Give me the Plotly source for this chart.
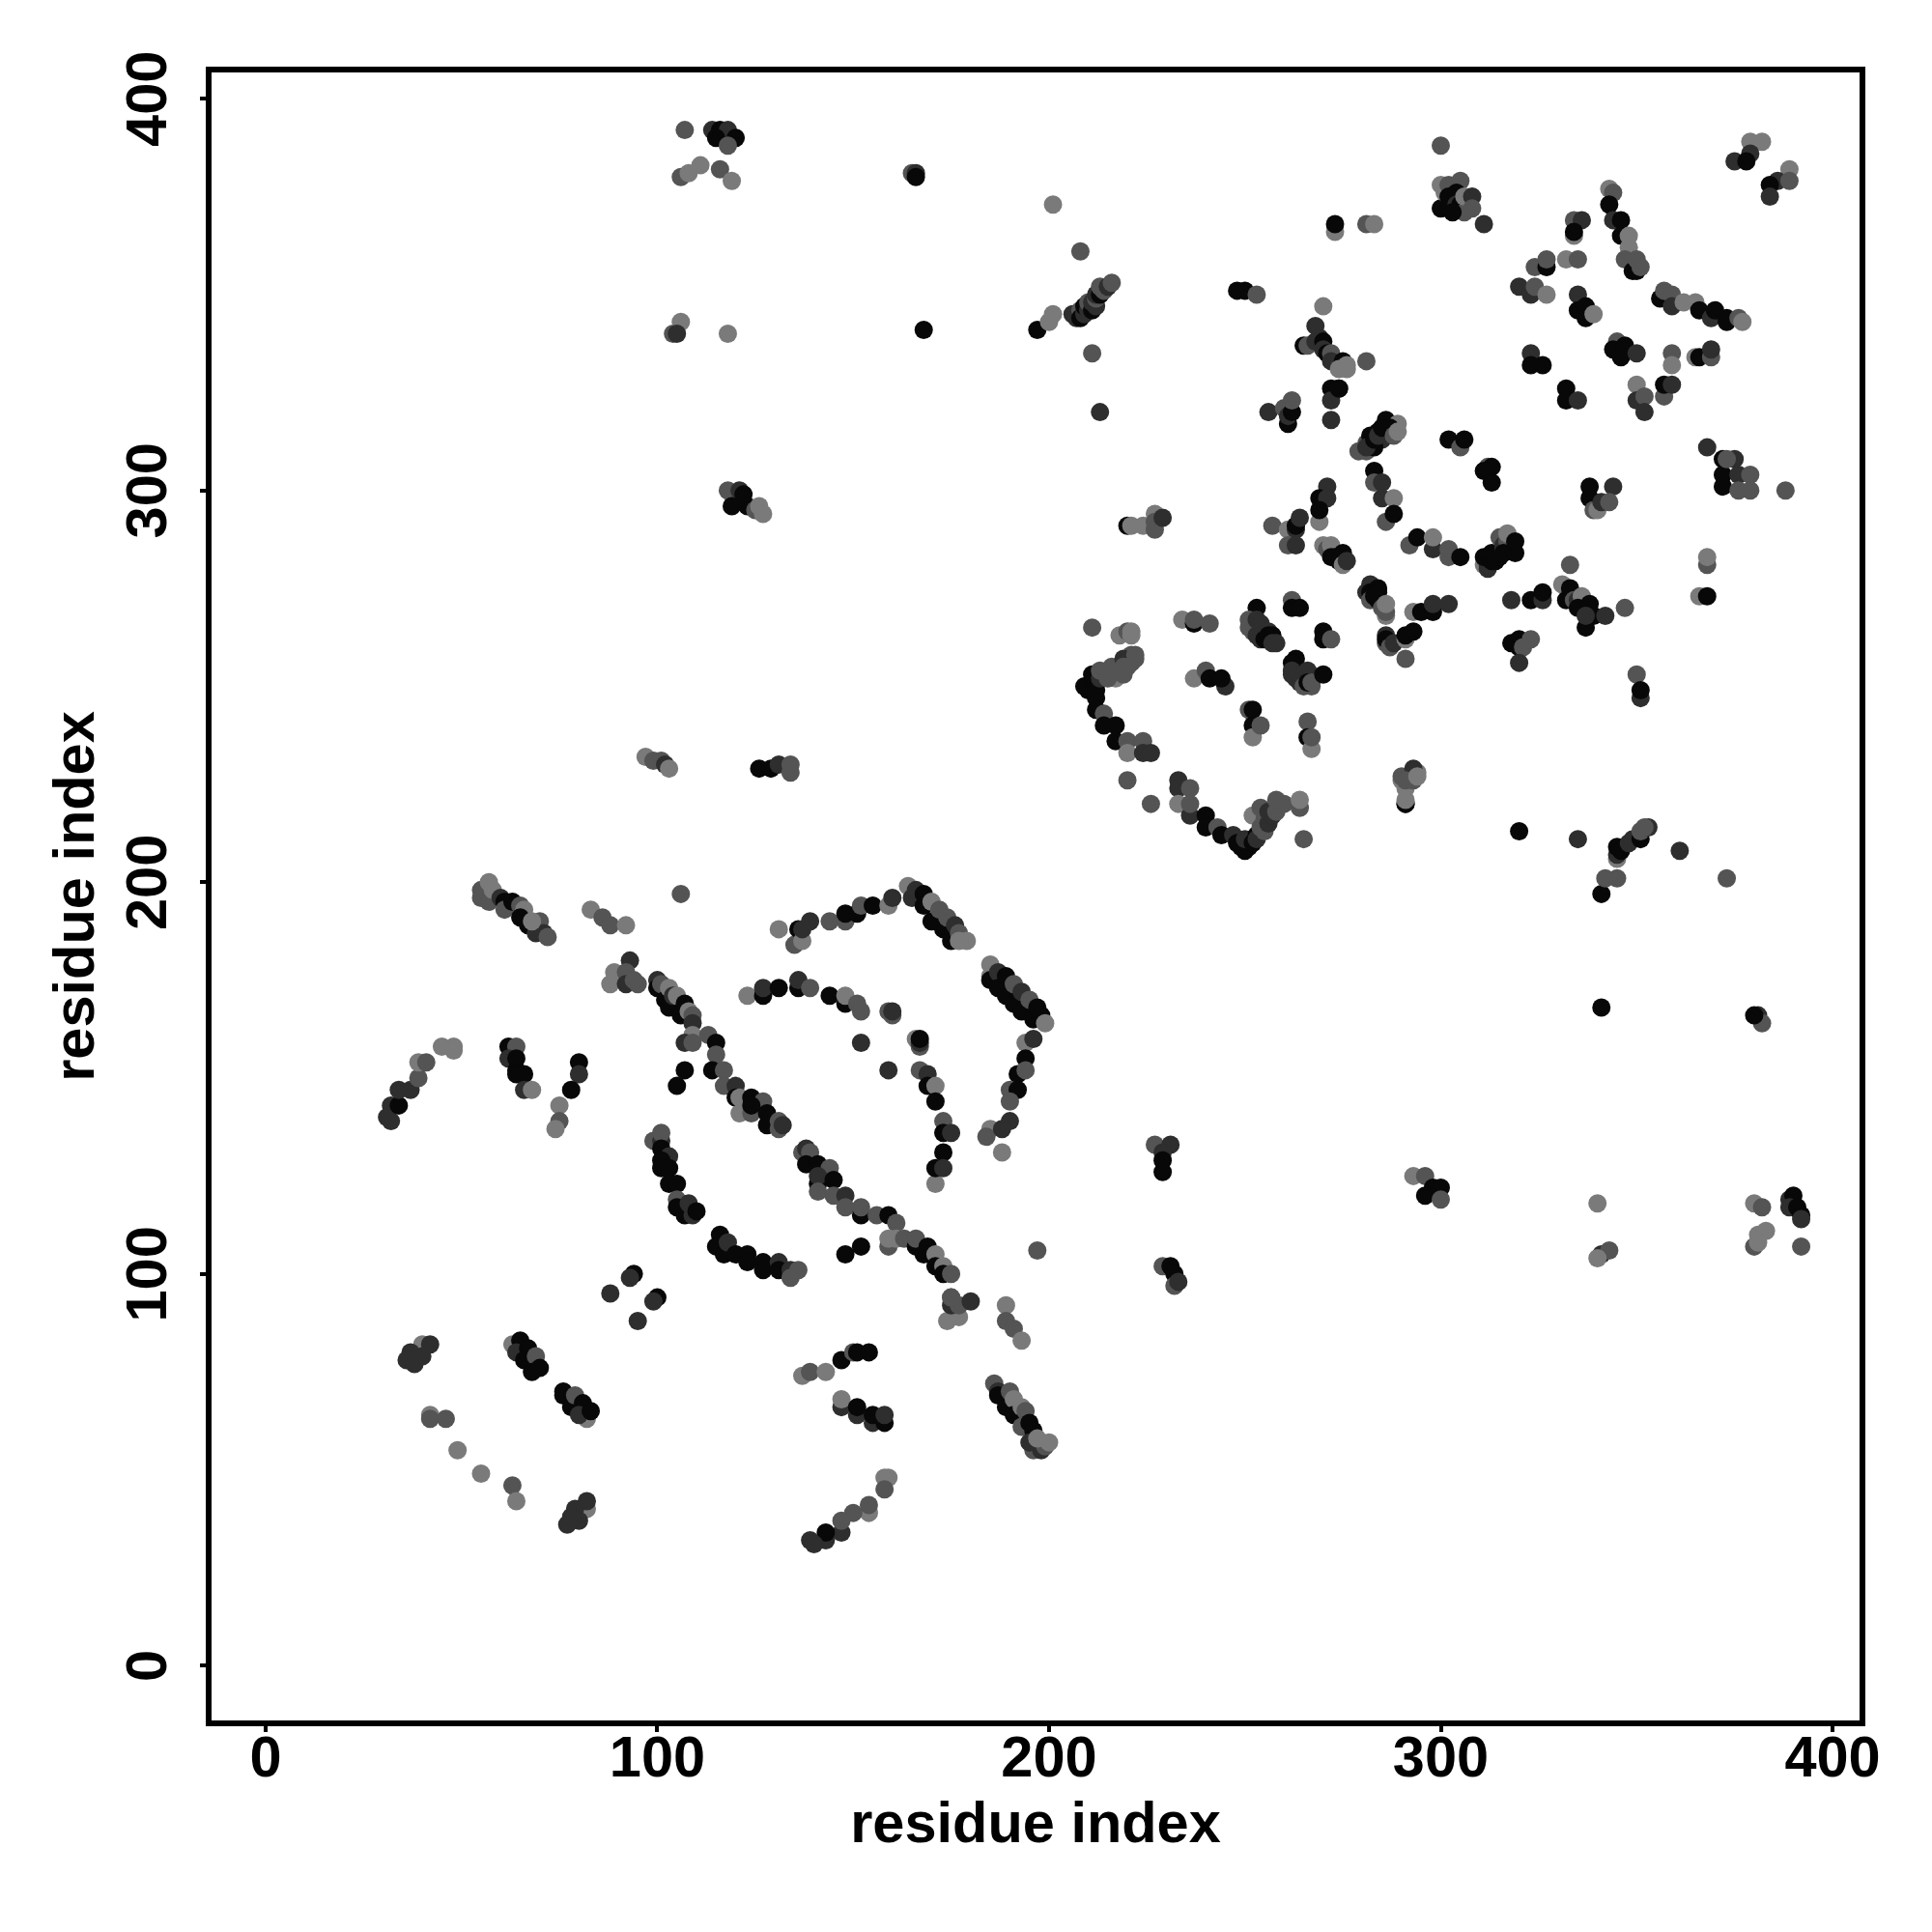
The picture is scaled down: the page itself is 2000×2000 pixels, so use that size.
import plotly.graph_objects as go

# each row: residue i, residue j, score (0 = darkest, 3 = lightest)
helix_a = [(55,196,2),(55,198,2),(57,200,3),(57,195,2),(58,198,3),(60,196,1),(61,195,0),(61,193,2),(63,195,0),
 (65,194,2),(66,193,3),(65,191,0),(67,189,0),(70,190,2),(69,187,1),(71,187,1),(68,190,3),(72,186,2),
 (83,193,3),(86,191,2),(88,189,2),(92,189,3),(106,197,2)]
arc_b = [(93,180,1),(89,177,3),(88,174,3),(92,177,2),(92,174,1),(95,174,2),(94,175,2),
 (100,175,1),(100,173,0),(101,174,2),(102,170,0),(103,173,3),(103,168,0),(104,171,1),(105,171,3),(106,166,0),(107,169,0),
 (108,167,3),(109,166,2),(109,164,1),(109,161,3),(107,159,1),(109,159,2),(113,161,2),(115,159,0),(115,156,2),
 (114,152,0),(117,152,2),(117,148,2),(120,148,1),(120,145,0),(121,145,3),(124,145,0),(121,141,3),(124,141,2),
 (127,144,2),(124,143,0),(128,141,0),(128,138,0),(131,139,2),(131,137,2),(132,138,1)]
left_arcs = [(32,139,1),(31,140,1),(32,143,1),(34,143,0),(34,147,1),(37,147,1),(39,150,2),(39,154,3),(41,154,2),
 (45,158,3),(48,158,3),(48,157,3),(62,158,0),(64,158,2),(62,155,1),(64,155,0),(64,152,0),(64,151,0),(66,151,0),
 (66,147,1),(68,147,3),(80,154,0),(80,151,1),(78,147,0),(75,143,3),(75,139,2),(74,137,3),(107,152,0),(105,148,0)]
arc_c = [(99,134,2),(101,134,1),(101,136,2),(101,132,0),(103,130,1),(101,129,0),(101,127,0),(103,127,0),(103,123,0),
 (105,123,0),(105,119,2),(105,117,0),(107,115,0),(108,118,1),(109,115,1),(110,116,0),
 (116,110,0),(115,107,0),(117,105,0),(118,108,1),(120,105,0),(123,105,0),(123,103,0),(127,103,0),(127,101,0),
 (131,103,1),(131,101,0),(134,101,1),(134,99,2),(136,101,2)]
lower_left = [(94,100,0),(93,99,1),(88,95,1),(100,94,0),(99,93,1),(95,88,1),
 (40,82,3),(42,82,1),(40,79,1),(37,80,1),(36,78,1),(38,77,1),
 (63,82,3),(65,83,0),(64,80,1),(67,81,0),(66,78,0),(69,79,2),(68,75,0),(70,76,0),
 (76,69,0),(76,70,0),(78,66,0),(79,69,2),(81,67,0),(82,63,3),(80,64,1),(83,65,0),
 (42,64,3),(42,63,2),(46,63,2),(49,55,3),(55,49,3),(63,46,2),(64,42,3),
 (82,40,3),(82,42,1),(79,40,1),(80,37,1),(78,38,1),(77,36,1)]
lower_mid = [(137,74,3),(139,75,2),(143,75,3),(147,78,0),(150,80,2),(151,80,0),(154,80,0),
 (147,66,1),(147,68,3),(151,64,1),(151,66,0),(155,62,1),(155,64,0),(158,62,0),(158,64,1),
 (158,48,3),(159,48,3),(158,45,2),(154,39,3),(154,41,2),(150,39,2),(147,34,1),(147,37,2),(143,32,1),(143,34,0),(139,32,1),(140,31,1),
 (186,72,2),(187,70,1),(187,69,0),(189,66,0),(190,70,2),(191,68,3),(191,64,0),(193,66,3),(194,65,2),(193,61,2),(195,62,0),(196,60,0),
 (196,55,2),(198,55,1),(195,57,1),(199,56,2),(197,58,3),(200,57,3),
 (174,88,3),(177,89,3),(175,92,1),(175,94,2),(177,92,2),(180,93,1),(189,92,3),(189,88,2),(191,86,2),(193,83,3),
 (229,102,2),(231,102,0),(232,100,0),(232,97,2),(233,98,1),(197,106,2)]
upper_arc = [(131,188,3),(135,184,2),(136,188,0),(137,185,3),(137,188,1),(139,190,1),(144,190,2),(148,190,2),(148,192,0),(151,192,0),
 (152,194,2),(155,194,0),(159,194,3),(160,196,1),
 (164,199,3),(165,196,1),(166,198,1),(168,197,0),(168,194,0),(170,195,3),(170,190,0),(172,193,2),(173,188,0),(174,191,2),
 (175,185,0),(176,189,1),(177,187,2),(177,185,3),(179,185,3)]
right_strand = [(185,179,3),(185,176,3),(185,175,0),(187,177,1),(187,173,0),(189,176,0),(189,171,0),(191,174,2),(191,169,0),(193,172,1),
 (193,167,0),(195,170,2),(196,165,0),(197,168,0),(198,166,0),(199,164,3),
 (194,159,3),(196,160,1),(194,155,0),(192,151,0),(194,152,2),(190,147,2),(192,147,0),(190,144,2),(190,139,1),(185,137,3),(184,135,2),(188,137,1),(188,131,3)]
inner_arc = [(123,171,3),(127,171,0),(127,173,1),(131,173,0),(136,173,0),(136,175,1),(139,173,2),(144,171,0),(148,169,0),(148,171,3),
 (151,169,2),(152,167,2),(159,167,2),(160,166,2),(160,167,1),(152,159,1),(159,152,1),
 (166,160,3),(167,158,2),(167,159,1),(167,160,0),(167,152,2),(169,151,1),(169,148,0),(171,148,3),(171,144,0),(173,139,2),
 (173,136,0),(175,136,1),(173,131,0),(171,123,3),(171,127,0),(173,127,1)]
mid_diag = [(137,131,2),(138,132,1),(139,131,2),(138,128,0),(141,128,0),(144,127,2),(141,123,0),(141,125,1),(145,124,0),(141,121,2),
 (145,120,2),(148,120,1),(148,117,2),(152,115,0),(152,117,2),(156,115,2),(159,115,0),(161,113,2),(152,107,0),(148,105,0),
 (159,107,2),(159,109,3),(161,109,3),(163,109,2),(166,107,0),(166,109,2),(169,107,0),(168,105,0),(171,105,3),(171,102,0),
 (173,102,3),(173,100,0),(175,100,2),(175,94,2)]
right_low = [(227,133,2),(231,133,1),(229,131,1),(229,129,0),(229,126,0),
 (293,125,3),(296,125,2),(298,122,0),(300,122,0),(296,120,0),(300,119,2),
 (340,118,3),(341,105,1),(343,106,2),(340,104,3),(380,118,3),(382,117,2),(381,110,3),(383,111,3),(380,107,2),(381,108,3),(392,107,2),
 (389,119,1),(390,120,0),(389,117,1),(391,117,0),(392,115,0),(392,114,1),
 (381,166,1),(382,164,2),(380,166,0),(341,168,0),(341,197,0),(342,201,2),(345,201,2),(373,201,2),(361,208,1),(335,211,1),(320,213,0),
 (345,206,3),(345,207,1),(345,209,0),(346,208,0),(348,210,1),(349,211,1),(351,211,0),(351,213,2),(353,214,1),(352,214,2),
 (291,220,1),(290,226,3),(291,224,3),(293,226,2),(294,228,3)]
bowl = [(211,265,2),(218,263,3),(220,264,2),(221,264,3),(221,263,3),(234,267,3),(237,266,0),(237,267,2),(241,266,2),
 (253,270,0),(262,272,2),(262,270,0),(264,270,0),(251,267,2),(251,265,2),(252,264,2),(253,267,1),(253,263,1),(254,266,1),(254,262,1),(255,262,0),(256,264,1),(256,263,0),(257,263,0),(257,261,1),(258,261,1),
 (270,264,0),(270,262,0),(272,262,2),(263,257,0),(262,256,0),(262,254,1),(262,253,1),(263,252,1),(264,251,1),(265,250,2),(267,250,2),(266,254,1),(266,251,0),(267,251,2),(270,253,0),
 (286,263,1),(286,261,2),(286,262,0),(287,260,2),(288,261,1),(291,262,3),(291,263,0),(293,264,0),(291,257,2),(293,269,3),(295,269,0),(298,269,0),(298,271,1),(302,271,1),
 (216,254,3),(217,252,3),(209,250,0),(210,249,0),(210,250,0),(211,249,0),(211,253,0),(212,249,0),(213,252,1),(213,254,2),(215,252,2),(216,255,2),(218,255,2),(219,253,2),(221,256,2),(222,257,2),(221,258,2),
 (212,247,0),(212,244,0),(214,243,2),(214,240,0),(217,240,0),
 (217,236,0),(220,236,2),(224,236,2),(220,233,3),(224,233,1),(226,233,1),(219,257,1),(219,255,2),(220,255,2),(222,258,2),
 (220,226,2),(226,220,2),(237,252,3),(240,254,2),(241,252,0),(245,250,1),(244,252,0),
 (251,244,2),(252,244,0),(252,240,0),(252,237,3),(254,240,2),(266,241,2),(266,237,0),(267,234,3),(267,237,2),
 (290,227,2),(293,229,1),(291,226,2),(294,227,3),(291,220,0),(291,221,3),
 (233,226,1),(233,224,1),(236,224,2),(233,220,3),(236,217,1),(236,220,2),(240,217,0),(240,214,0),(243,214,2),(244,212,0),(247,212,1),
 (248,210,0),(249,209,0),(250,208,0),(251,209,0),(250,211,1),(252,210,0),(253,212,0),(253,211,1),(252,217,3),(254,214,2),(255,213,2),(255,216,2),(256,215,1),(254,219,2),(257,217,1),(256,218,1),(258,218,2),(259,220,2),(260,220,2),(258,221,2),(264,219,2),(264,221,3),(265,211,2)]
centre = [(213,320,1),(256,320,1),(260,321,2),(261,317,0),(261,319,1),(262,320,0),(262,323,2),(272,326,0),(274,326,0),(272,323,1),(272,318,1),
 (286,318,0),(288,315,2),(289,317,3),(284,315,0),(281,312,2),(282,314,0),(282,312,0),(285,313,1),(281,310,2),(279,310,2),(283,311,0),(281,311,1),(283,313,0),(284,314,1),(285,316,0),(287,316,0),(288,314,2),(289,315,3),
 (302,313,0),(305,311,2),(306,313,0),(312,306,2),(313,306,0),(311,305,0),(313,302,0),
 (283,305,0),(283,302,2),(285,302,1),(285,298,1),(288,298,3),(286,292,2),(288,294,0),
 (292,286,2),(294,288,0),(298,285,1),(298,288,3),(302,283,2),(302,285,2),(305,283,0),
 (311,281,3),(312,280,1),(312,281,1),(311,283,0),(313,282,0),(313,284,0),(314,282,0),(315,283,0),(315,288,2),(316,285,1),(316,286,1),(317,287,2),(317,289,3),(316,284,0),(319,284,0),(319,287,0),(318,272,1),
 (271,301,1),(269,298,0),(271,298,1),(269,292,3),(269,295,0),(257,291,2),(261,290,3),(263,290,1),(263,291,0),(264,293,1),(261,286,2),(263,286,1),
 (270,286,3),(271,285,2),(272,284,2),(272,286,3),(272,283,0),(275,284,0),(274,282,0),(273,283,0),(275,281,3),(276,282,1),
 (220,291,0),(221,291,3),(224,291,3),(227,294,3),(227,290,2),(227,292,2),(229,293,1),
 (281,274,1),(282,276,1),(282,274,0),(282,272,2),(284,275,0),(284,274,0),(284,272,0),(283,273,0),(285,270,2),(286,268,3),(286,269,2),(286,271,3)]
top_right = [(300,388,2),(300,378,3),(300,372,0),(303,376,2),(301,376,3),(302,378,2),(305,379,2),(302,375,0),(302,372,0),(304,376,0),(305,372,0),(304,373,1),(305,373,0),(306,371,2),(303,371,0),(306,375,3),(308,375,1),(308,372,2),(311,368,1),
 (343,377,3),(344,376,2),(343,373,0),(344,369,1),(346,369,0),(346,365,0),(348,365,3),(348,362,3),(347,359,2),(349,356,0),(350,356,0),(350,359,2),(351,357,2),
 (334,369,2),(336,369,1),(334,365,3),(334,366,0),(324,357,2),(327,357,0),(327,359,2),(332,359,3),(335,359,2),
 (320,352,1),(323,350,1),(324,352,2),(327,350,3),(335,350,1),(335,346,0),(337,347,0),(337,344,0),(339,345,3),
 (356,349,0),(357,351,2),(359,350,2),(359,347,1),(362,348,3),(365,348,3),(366,346,0),(369,344,1),(370,346,0),(373,344,0),(373,343,0),(376,344,2),(377,343,3),
 (379,389,3),(382,389,3),(379,386,1),(375,384,1),(378,384,0),(389,382,3),(386,379,1),(384,378,0),(389,379,2),(384,375,1),
 (345,338,2),(344,336,0),(347,337,0),(346,334,0),(350,335,1),(359,335,2),(359,332,3),(365,334,3),(366,334,0),(369,334,2),(369,336,1),
 (323,335,1),(323,332,0),(326,332,0),(332,326,0),(332,323,0),(335,323,1),
 (350,327,3),(350,323,1),(352,324,2),(352,320,1),(357,324,2),(357,327,0),(359,327,1)]
right_mid = [(368,311,1),(372,308,0),(372,304,0),(372,301,0),(375,308,1),(373,308,2),(376,304,1),(379,304,2),(376,300,2),(379,300,2),(388,300,2),
 (338,301,0),(344,301,1),(338,298,0),(339,295,2),(340,295,3),(341,297,1),(343,297,2),
 (333,281,2),(331,276,3),(333,275,0),(332,272,0),(334,272,2),(335,272,1),(336,273,3),(335,270,0),(338,271,0),(339,268,0),(337,265,0),(337,268,1),(342,268,1),(347,270,2),
 (323,272,0),(326,272,1),(326,274,0),(368,281,2),(368,283,3),(366,273,3),(368,273,0),
 (318,261,0),(320,262,0),(320,260,0),(321,260,2),(323,262,2),(320,256,1),(350,253,2),(351,247,1),(351,249,0)]
top_mid = [(273,366,3),(273,368,0),(281,368,2),(283,368,3),(248,351,0),(250,351,0),(253,350,2),(270,347,3),(265,337,0),(268,342,1),(266,337,2),(268,338,1),(269,339,1),(270,338,0),(270,336,1),(271,335,0),(272,335,2),(272,333,1),(275,333,0),(274,331,3),(276,331,3),(276,332,3),(281,333,2),(274,326,0),
 (107,392,2),(114,392,1),(116,392,0),(118,392,1),(115,390,0),(120,390,0),(118,388,2),(106,380,2),(108,381,3),(111,383,3),(116,382,2),(119,379,3),
 (165,381,2),(166,381,1),(166,380,0),(201,373,3),(208,361,2),(168,341,0),(197,341,0),(200,343,3),(201,345,3),
 (206,345,1),(207,344,1),(208,346,2),(208,344,0),(209,345,1),(209,347,0),(210,346,1),(210,348,2),(211,346,0),(211,348,1),(212,347,1),(212,349,2),(212,350,1),(213,350,0),(214,351,2),(213,352,2),(215,352,1),(216,353,2),(211,335,2),
 (104,340,2),(106,343,3),(105,340,1),(118,340,3),
 (118,300,2),(121,300,1),(122,299,0),(119,296,0),(123,296,0),(125,295,2),(126,296,3),(127,294,3),
 (97,232,3),(99,231,2),(101,231,2),(102,230,1),(103,229,3),(126,229,0),(129,229,0),(131,230,1),(134,228,2),(134,230,2)]

x_ticks = [0, 100, 200, 300, 400]
y_ticks = [0, 100, 200, 300, 400]
axis_label = "residue index"

rows = (helix_a + arc_b + left_arcs + arc_c + lower_left + lower_mid + upper_arc + right_strand + inner_arc
        + mid_diag + right_low + bowl + centre + top_right + right_mid + top_mid)
res_i = [r[0] for r in rows]
res_j = [r[1] for r in rows]
score = [r[2] for r in rows]

FONT = "Liberation Sans"
fig = go.Figure(go.Scatter(
    x=res_i, y=res_j, mode="markers",
    marker=dict(size=19, color=score, cmin=0, cmax=3,
                colorscale=[[0, "rgb(8,8,8)"], [1, "rgb(122,122,122)"]],
                showscale=False, line=dict(width=0)),
    hoverinfo="skip"))

axis = dict(showgrid=False, zeroline=False, showline=True, mirror=True, linecolor="black", linewidth=5.5,
            ticks="outside", ticklen=6, tickwidth=3.5, tickcolor="black", tickmode="array",
            tickfont=dict(family=FONT, size=59.5, color="black", weight="bold"), automargin=False)
title_font = dict(family=FONT, size=59.5, color="black", weight="bold")
fig.update_layout(
    width=2000, height=2000, autosize=False, showlegend=False,
    paper_bgcolor="white", plot_bgcolor="white",
    margin=dict(l=219, r=75, t=75, b=219),
    xaxis=dict(axis, range=[-13.8, 406.9], tickvals=x_ticks, ticktext=[str(v) for v in x_ticks],
               ticklabelstandoff=-25,
               title=dict(text=axis_label, standoff=16, font=title_font)),
    yaxis=dict(axis, range=[-13.98, 406.7], tickvals=y_ticks, ticktext=[str(v) for v in y_ticks], tickangle=-90,
               ticklabelstandoff=11, ticklabelshift=9,
               title=dict(text=axis_label, standoff=4, font=title_font)),
)
fig.write_html("out.html", config={"displayModeBar": False}, post_script="document.body.style.margin='0';")
